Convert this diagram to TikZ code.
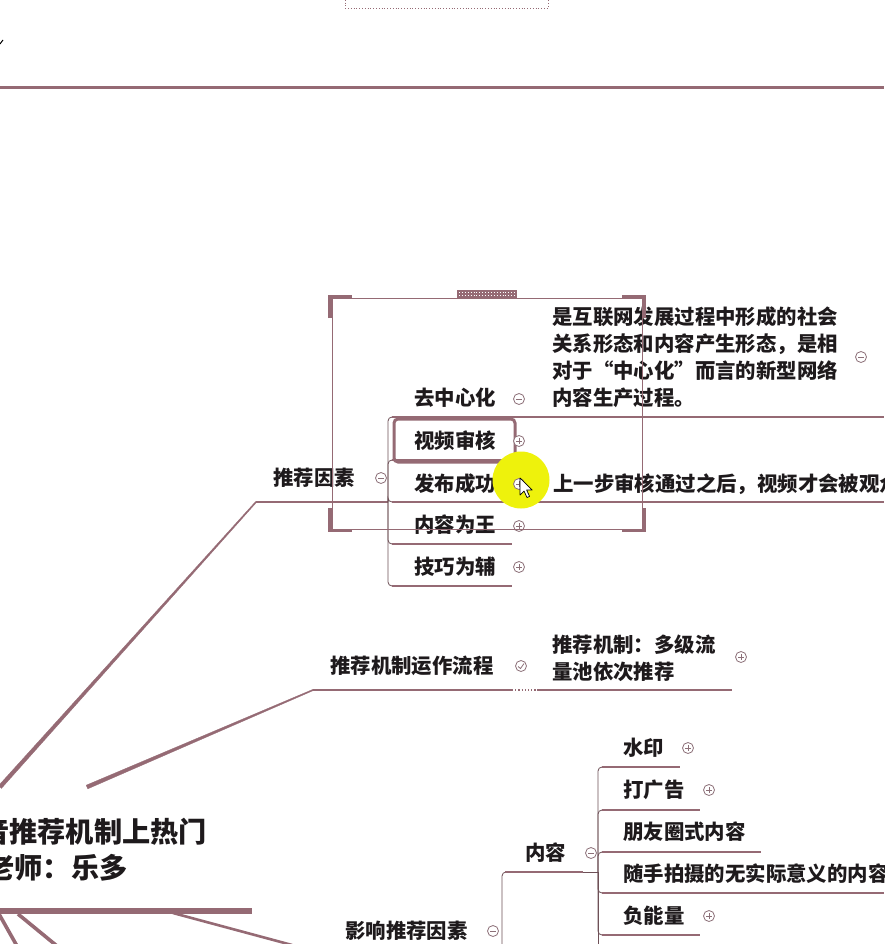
\documentclass[tikz,border=0pt]{standalone}
\usepackage{fontspec}
\setmainfont{Noto Sans CJK SC}
\definecolor{mv}{HTML}{956A74}
\definecolor{mvd}{HTML}{6E5057}
\definecolor{tx}{HTML}{1E1A1C}
\definecolor{ic}{HTML}{8C7078}
\definecolor{hl}{HTML}{EEF20C}
\newcommand\icminus[2]{\node[icn] (#1) at (#2) {};
  \draw[ic,line width=0.8pt] ([xshift=-2.8pt]#1.center) -- ([xshift=2.8pt]#1.center);}
\newcommand\icplus[2]{\node[icn] (#1) at (#2) {};
  \draw[ic,line width=0.8pt] ([xshift=-2.8pt]#1.center) -- ([xshift=2.8pt]#1.center)
  ([yshift=-2.8pt]#1.center) -- ([yshift=2.8pt]#1.center);}
\begin{document}
\begin{tikzpicture}[x=1pt,y=-1pt,
  lbl/.style={anchor=west,inner sep=0pt,text=tx,font=\fontsize{20.4}{27}\selectfont\bfseries,align=left},
  ttl/.style={anchor=west,inner sep=0pt,text=tx,font=\fontsize{28.2}{36}\selectfont\bfseries},
  uline/.style={draw=mv,line width=2pt},
  thick line/.style={draw=mv,line width=2.8pt},
  brk/.style={draw=mvd,line width=0.8pt,rounded corners=4pt},
  icn/.style={circle,draw=ic,fill=white,line width=0.8pt,minimum size=11pt,inner sep=0pt},
  taper/.style={fill=mv,draw=mv,line width=0.3pt},
]
\useasboundingbox (0,0) rectangle (884,944);
\clip (0,0) rectangle (884,944);
\fill[white] (0,0) rectangle (884,944);

% ---------- top ----------
\draw[mv,line width=3pt] (0,88) -- (884,88);
\draw[mv,dotted,line width=0.8pt] (345,-3) -- (345,8) -- (548,8) -- (548,-3);
\draw[black,line width=1pt] (0,44) -- (3,40);

% ---------- diagonal branches from the central topic ----------
\coordinate (c1) at (256,502);
\coordinate (c2) at (313,690);
\fill[taper] (256.45,502.4) -- (1.5,788.3) -- (-1.5,785.7) -- (255.55,501.6) -- cycle;
\fill[taper] (313.24,690.55) -- (87.8,788.8) -- (86.2,785.2) -- (312.76,689.45) -- cycle;
\draw[mv,line width=3.6pt] (-1,914) -- (17,946);
\draw[mv,line width=3.6pt] (18,914) -- (57,946);
\draw[mv,line width=2.6pt] (173,913) -- (292,945);

% ---------- central topic ----------
\node[ttl] (t1) at (-47,832) {抖音推荐机制上热门};
\node[ttl] (t2) at (-70,868) {主讲老师：乐多};
\draw[mv,line width=6.5pt] (-5,911) -- (252,911);

% ---------- 推荐因素 ----------
\node[lbl] (tj) at (273,478) {推荐因素};
\coordinate (tjR) at (388,502);
\draw[uline] (c1) -- (tjR);
\node[lbl] (a1) at (414,398) {去中心化};
\node[lbl] (a2) at (414,441) {视频审核};
\node[lbl] (a3) at (414,484) {发布成功};
\node[lbl] (a4) at (414,525) {内容为王};
\node[lbl] (a5) at (414,567) {技巧为辅};
\foreach \yy in {417,460,502,544,586}{
  \draw[brk] (tjR) -- (388,\yy) -- (400,\yy);
  \draw[uline] (392,\yy) -- (512,\yy);
}
\node[lbl] (a1t) at (552,357.5) {是互联网发展过程中形成的社会\\关系形态和内容产生形态，是相\\对于“中心化”而言的新型网络\\内容生产过程。};
\draw[draw=mv,line width=1.6pt] (512,417) -- (884,417);
\node[lbl] (a3t) at (553,484) {上一步审核通过之后，视频才会被观众};
\draw[uline] (512,502) -- (884,502);

% selected node
\draw[mv,line width=3pt,rounded corners=4pt] (394,419) rectangle (515,462);

% highlight + icons
\fill[hl] (521,480) circle (28.5);
\icminus{tji}{381,478}
\icminus{a1i}{519,399}
\icminus{a1ti}{861,357}
\icplus{a2i}{519,441}
\icplus{a3i}{519,484}
\icplus{a4i}{519,526}
\icplus{a5i}{519,567}

% cursor
\filldraw[fill=white,draw=black,line width=0.7pt,line join=round]
  (520,478) -- ++(0,17) -- ++(4,-4) -- ++(3,6.5) -- ++(2.6,-1.1) -- ++(-3,-6.4) -- ++(5.6,0) -- cycle;

% selection frame
\draw[mv,line width=0.8pt] (332,298) rectangle (642,529);
\draw[mv,line width=3.2pt] (330,318) -- (330,296.5) -- (352,296.5);
\draw[mv,line width=3.2pt] (622,296.5) -- (644,296.5) -- (644,318);
\draw[mv,line width=3.2pt] (330,508) -- (330,530.5) -- (352,530.5);
\draw[mv,line width=3.2pt] (622,530.5) -- (644,530.5) -- (644,508);
\fill[mv] (457,290) rectangle (517,297.5);
\draw[white,dotted,line width=0.9pt] (459,292.2) -- (515,292.2);
\draw[white,dotted,line width=0.9pt] (459,295.2) -- (515,295.2);

% ---------- 推荐机制运作流程 ----------
\node[lbl] (lc) at (330,666) {推荐机制运作流程};
\draw[thick line] (c2) -- (512,690);
\draw[mv,dotted,line width=1.2pt] (512,690) -- (537,690);
\node[icn] (lci) at (521,666) {};
\draw[ic,line width=0.8pt] (518,666.5) -- (520.5,668.5) -- (524,663.5);
\node[lbl] (lct) at (552,658.5) {推荐机制：多级流\\量池依次推荐};
\draw[thick line] (537,690) -- (732,690);
\icplus{lcti}{741,657}

% ---------- 影响推荐因素 ----------
\node[lbl] (yx) at (345,931) {影响推荐因素};
\icminus{yxi}{493,931}
\coordinate (yxR) at (502,960);
\node[lbl] (nr) at (525,853) {内容};
\draw[brk] (yxR) -- (502,872) -- (512,872);
\draw[uline] (505,872) -- (583,872);
\coordinate (nrR) at (598,872);
\draw[mvd,line width=0.8pt] (583,872) -- (nrR);
\icminus{nri}{591,853}
\node[lbl] (b1) at (623,748) {水印};
\node[lbl] (b2) at (623,790) {打广告};
\node[lbl] (b3) at (623,832) {朋友圈式内容};
\node[lbl] (b4) at (623,874) {随手拍摄的无实际意义的内容};
\node[lbl] (b5) at (623,916) {负能量};
\draw[brk] (nrR) -- (598,767) -- (610,767);
\draw[brk] (nrR) -- (598,810) -- (610,810);
\draw[brk] (nrR) -- (598,852) -- (610,852);
\draw[brk] (nrR) -- (598,893) -- (610,893);
\draw[brk] (nrR) -- (598,935) -- (610,935);
\draw[brk] (nrR) -- (598,950);
\draw[uline] (602,767) -- (680,767);
\draw[uline] (602,810) -- (700,810);
\draw[uline] (602,852) -- (761,852);
\draw[uline] (602,893) -- (884,893);
\draw[uline] (602,935) -- (700,935);
\icplus{b1i}{688,748}
\icplus{b2i}{709,790}
\icplus{b5i}{709,916}
\end{tikzpicture}
\end{document}
